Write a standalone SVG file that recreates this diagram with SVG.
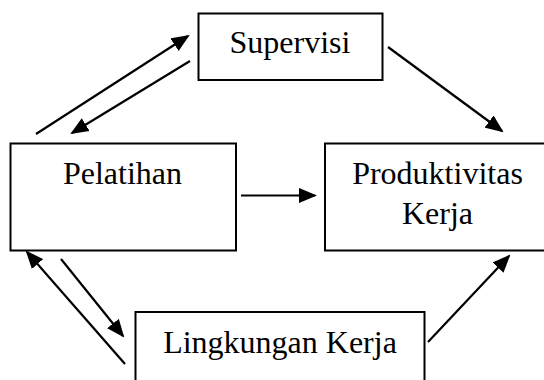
<svg xmlns="http://www.w3.org/2000/svg" width="544" height="380" viewBox="0 0 544 380">
<style>
.box{fill:#fff;stroke:#000;stroke-width:2}
.lbl{font-family:"Liberation Serif","Times New Roman",serif;font-size:32px;fill:#000;text-anchor:middle}
.arr{stroke:#000;stroke-width:2.2;fill:none;marker-end:url(#ah)}
</style>
<defs>
<marker id="ah" markerUnits="userSpaceOnUse" markerWidth="18" markerHeight="16" refX="16" refY="7.5" orient="auto" viewBox="0 0 18 15">
<path d="M0,0 L18,7.5 L0,15 z" fill="#000"/>
</marker>
</defs>
<rect width="544" height="380" fill="#fff"/>
<g id="supervisi">
<rect class="box" x="198.5" y="13.5" width="184" height="66.5"/>
<text class="lbl" x="290" y="53">Supervisi</text>
</g>
<g id="pelatihan">
<rect class="box" x="10.5" y="143.5" width="225.5" height="107"/>
<text class="lbl" x="122.5" y="184">Pelatihan</text>
</g>
<g id="produktivitas">
<rect class="box" x="325" y="143.5" width="240" height="107"/>
<text class="lbl" x="437.5" y="184">Produktivitas</text>
<text class="lbl" x="437.5" y="224">Kerja</text>
</g>
<g id="lingkungan">
<rect class="box" x="135.5" y="312" width="289" height="100"/>
<text class="lbl" x="280" y="353">Lingkungan Kerja</text>
</g>
<g id="connectors">
<line class="arr" x1="36" y1="134" x2="188" y2="36"/>
<line class="arr" x1="190" y1="61" x2="72" y2="133"/>
<line class="arr" x1="388" y1="47" x2="502" y2="131"/>
<line class="arr" x1="241" y1="195.5" x2="315" y2="195.5"/>
<line class="arr" x1="125" y1="364" x2="27" y2="252"/>
<line class="arr" x1="61" y1="259" x2="123" y2="336"/>
<line class="arr" x1="428" y1="342" x2="509" y2="256"/>
</g>
</svg>
